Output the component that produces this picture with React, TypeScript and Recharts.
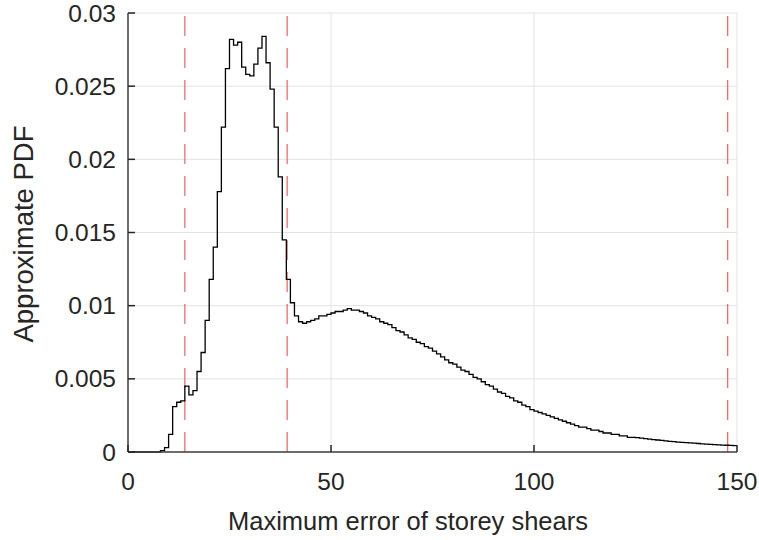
import React from 'react';
import { LineChart, Line, XAxis, YAxis, CartesianGrid, ReferenceLine } from 'recharts';

// histogram bins of width 1, starting at 0
const binStart = 0;
const binWidth = 1;
const pdfValues = [
  0, 0, 0, 0, 0, 0, 0, 0, 0.0001, 0.0003,
  0.0012, 0.0031, 0.0034, 0.0035, 0.0045, 0.0039, 0.0042, 0.0055, 0.0068, 0.009,
  0.0118, 0.014, 0.0178, 0.0222, 0.0262, 0.0282, 0.0278, 0.028, 0.0263, 0.0258,
  0.0257, 0.0265, 0.0276, 0.0284, 0.0266, 0.0248, 0.0222, 0.0188, 0.0145, 0.0118,
  0.0102, 0.0093, 0.0089, 0.0088, 0.0089, 0.009, 0.0091, 0.0093, 0.0093, 0.0094,
  0.0095, 0.0096, 0.0096, 0.0097, 0.0098, 0.0097, 0.0097, 0.0096, 0.0095, 0.0093,
  0.0092, 0.0091, 0.0089, 0.0088, 0.0087, 0.0085, 0.0083, 0.0082, 0.008, 0.0078,
  0.0077, 0.0075, 0.0074, 0.0072, 0.0071, 0.0069, 0.0067, 0.0065, 0.0063, 0.0061,
  0.006, 0.0058, 0.0056, 0.0055, 0.0053, 0.0051, 0.005, 0.0048, 0.0046, 0.0045,
  0.0043, 0.0041, 0.004, 0.0038, 0.0037, 0.0035, 0.0034, 0.0032, 0.0031, 0.0029,
  0.0028, 0.0027, 0.0026, 0.0025, 0.0024, 0.0023, 0.0022, 0.0021, 0.002, 0.0019,
  0.0018, 0.0017, 0.0017, 0.0016, 0.0015, 0.0015, 0.0014, 0.0013, 0.0013, 0.0012,
  0.0012, 0.0011, 0.0011, 0.001, 0.001, 0.00098, 0.00095, 0.00091, 0.00088, 0.00085,
  0.00082, 0.00079, 0.00076, 0.00073, 0.00071, 0.00068, 0.00066, 0.00064, 0.00062, 0.0006,
  0.00058, 0.00056, 0.00054, 0.00052, 0.0005, 0.00049, 0.00047, 0.00046, 0.00045, 0.00043,
];
const boundLines = [14, 39.2, 147.7];
const xTicks = [0, 50, 100, 150];
const yTicks = [0, 0.005, 0.01, 0.015, 0.02, 0.025, 0.03];

const chartData = pdfValues.map((v, i) => ({ x: binStart + i * binWidth, y: v }));
chartData.push({ x: binStart + pdfValues.length * binWidth, y: pdfValues[pdfValues.length - 1] });

const textColor = '#262626';
const font = '"Liberation Sans", Arial, sans-serif';

const YTick = (props: any) => {
  const { x, y, payload } = props;
  return (
    <g>
      <line x1={x} y1={y} x2={x + 7} y2={y} stroke={textColor} strokeWidth={1.5} />
      <text x={x - 12} y={y} dy={8.5} textAnchor="end" fill={textColor} fontSize={24.5} fontFamily={font}>
        {String(payload.value)}
      </text>
    </g>
  );
};

const XTick = (props: any) => {
  const { x, y, payload } = props;
  return (
    <g>
      <line x1={x} y1={y} x2={x} y2={y - 7} stroke={textColor} strokeWidth={1.5} />
      <text x={x} y={y} dy={38} textAnchor="middle" fill={textColor} fontSize={24.5} fontFamily={font}>
        {String(payload.value)}
      </text>
    </g>
  );
};

export default function App() {
  return (
    <div style={{ position: 'absolute', left: 0, top: 0, width: 759, height: 540, background: '#fff' }}>
      <LineChart width={759} height={540} data={chartData} margin={{ top: 13, right: 22, bottom: 0, left: 0 }}>
        <CartesianGrid stroke="#e3e3e3" strokeWidth={1} verticalValues={xTicks} horizontalValues={yTicks} />
        <XAxis
          dataKey="x"
          type="number"
          domain={[0, 150]}
          ticks={xTicks}
          interval={0}
          height={88}
          tickSize={0}
          tickMargin={0}
          tickLine={false}
          tick={<XTick />}
          axisLine={{ stroke: '#404040', strokeWidth: 1.5 }}
        />
        <YAxis
          type="number"
          domain={[0, 0.03]}
          ticks={yTicks}
          interval={0}
          width={128}
          tickSize={0}
          tickMargin={0}
          tickLine={false}
          tick={<YTick />}
          axisLine={{ stroke: '#404040', strokeWidth: 1.5 }}
        />
        {boundLines.map((b) => (
          <ReferenceLine key={b} x={b} stroke="#f26b6b" strokeWidth={1.3} strokeDasharray="20 12" />
        ))}
        <Line
          type="stepAfter"
          dataKey="y"
          stroke="#000"
          strokeWidth={1.3}
          dot={false}
          isAnimationActive={false}
        />
        <text x={408} y={530} textAnchor="middle" fill={textColor} fontSize={25.5} fontFamily={font}>
          Maximum error of storey shears
        </text>
        <text
          x={33}
          y={234}
          transform="rotate(-90 33 234)"
          textAnchor="middle"
          fill={textColor}
          fontSize={27.5}
          fontFamily={font}
        >
          Approximate PDF
        </text>
      </LineChart>
    </div>
  );
}
